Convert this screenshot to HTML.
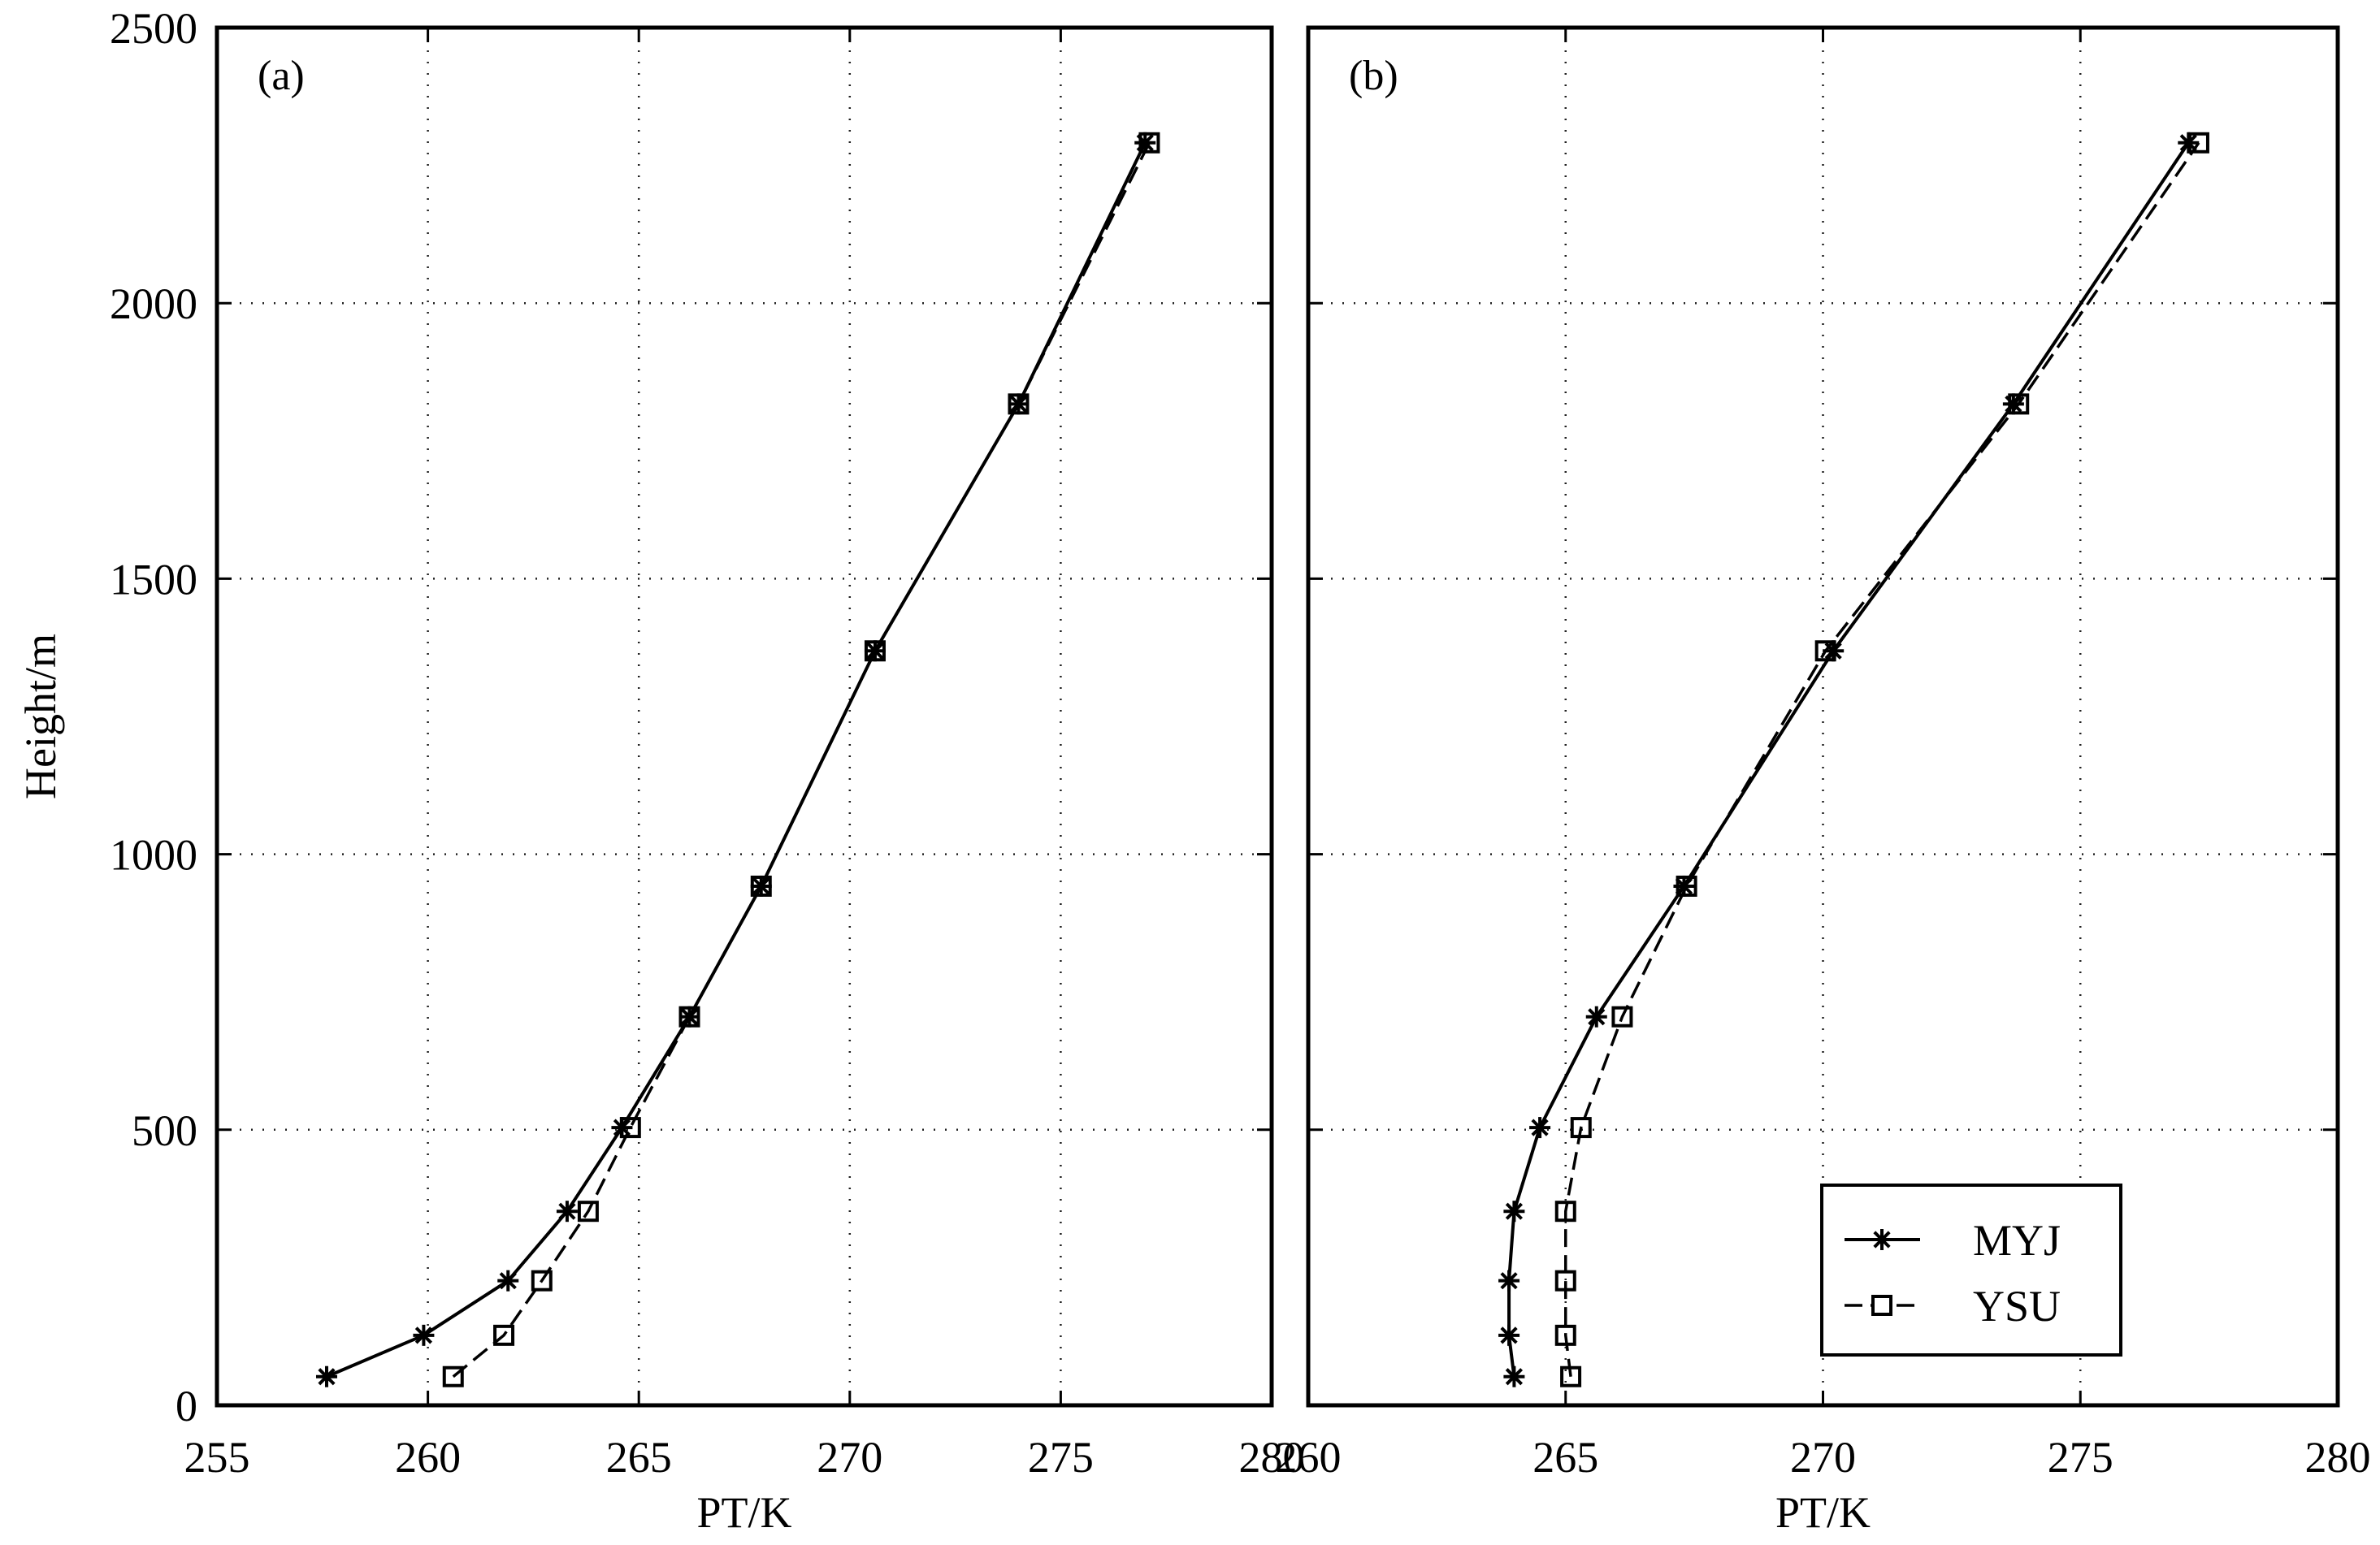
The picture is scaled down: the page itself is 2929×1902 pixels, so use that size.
<!DOCTYPE html>
<html><head><meta charset="utf-8">
<style>
html,body{margin:0;padding:0;background:#fff;}
svg{display:block;font-family:"Liberation Serif",serif;}
</style></head>
<body>
<svg id="chart" width="2929" height="1902" viewBox="0 0 2929 1902" xmlns="http://www.w3.org/2000/svg">
<rect width="2929" height="1902" fill="#fff"/>
</svg>
<script>
const heights = [52, 127, 226, 352, 504, 705, 942, 1369, 1817, 2291];
const myjA = [257.6, 259.9, 261.9, 263.3, 264.6, 266.2, 267.9, 270.6, 274.0, 277.0];
const ysuA = [260.6, 261.8, 262.7, 263.8, 264.8, 266.2, 267.9, 270.6, 274.0, 277.1];
const myjB = [264.0, 263.9, 263.9, 264.0, 264.5, 265.6, 267.3, 270.2, 273.7, 277.1];
const ysuB = [265.1, 265.0, 265.0, 265.0, 265.3, 266.1, 267.35, 270.05, 273.8, 277.3];
const xTicksA = [255, 260, 265, 270, 275, 280];
const xTicksB = [260, 265, 270, 275, 280];
const yTicks = [0, 500, 1000, 1500, 2000, 2500];

const NS = "http://www.w3.org/2000/svg";
const svg = document.getElementById('chart');
function mk(tag, attrs, parent) {
  const e = document.createElementNS(NS, tag);
  for (const k in attrs) e.setAttribute(k, attrs[k]);
  (parent || svg).appendChild(e);
  return e;
}
const yTop = 34, yBottom = 1730;
function yS(v) { return yBottom - (v / 2500) * (yBottom - yTop); }

function star(g, x, y) {
  const s = mk('g', {stroke: '#000', 'stroke-width': 4}, g);
  
  
  const r = 13;
  [0, 45, 90, 135].forEach(a => {
    const dx = r * Math.cos(a * Math.PI / 180), dy = r * Math.sin(a * Math.PI / 180);
    mk('line', {x1: x - dx, y1: y - dy, x2: x + dx, y2: y + dy}, s);
  });
}

function panel(key, left, right, xmin, xmax, xTicks, myj, ysu, label, showY) {
  const g = mk('g', {});
  
  
  const xS = v => left + (v - xmin) / (xmax - xmin) * (right - left);
  xTicks.forEach(t => {
    const x = xS(t);
    if (t !== xmin && t !== xmax) {
      const l = mk('line', {x1: x, x2: x, y1: yTop, y2: yBottom, stroke: '#222', 'stroke-width': 2.5, 'stroke-dasharray': '2 12'}, g);
      
      
    }
    mk('line', {x1: x, x2: x, y1: yBottom, y2: yBottom - 18, stroke: '#000', 'stroke-width': 3}, g);
    mk('line', {x1: x, x2: x, y1: yTop, y2: yTop + 18, stroke: '#000', 'stroke-width': 3}, g);
    const tx = mk('text', {x: x, y: 1812, 'font-size': 54, 'text-anchor': 'middle'}, g);
    tx.textContent = t;
    
    
  });
  yTicks.forEach(t => {
    const y = yS(t);
    if (t !== 0 && t !== 2500) {
      const l = mk('line', {x1: left, x2: right, y1: y, y2: y, stroke: '#222', 'stroke-width': 2.5, 'stroke-dasharray': '2 12'}, g);
      
      
    }
    mk('line', {x1: left, x2: left + 18, y1: y, y2: y, stroke: '#000', 'stroke-width': 3}, g);
    mk('line', {x1: right, x2: right - 18, y1: y, y2: y, stroke: '#000', 'stroke-width': 3}, g);
    if (showY) {
      const tx = mk('text', {x: 243, y: y + 19, 'font-size': 54, 'text-anchor': 'end'}, g);
      tx.textContent = t;
      
      
    }
  });
  const fr = mk('rect', {x: left, y: yTop, width: right - left, height: yBottom - yTop, fill: 'none', stroke: '#000', 'stroke-width': 5}, g);
  
  
  const py = ysu.map((v, i) => xS(v) + ',' + yS(heights[i])).join(' ');
  const ly = mk('polyline', {points: py, fill: 'none', stroke: '#000', 'stroke-width': 3.5, 'stroke-dasharray': '22 10'}, g);
  
  
  ysu.forEach((v, i) => {
    const r = mk('rect', {x: xS(v) - 11, y: yS(heights[i]) - 11, width: 22, height: 22, fill: 'none', stroke: '#000', 'stroke-width': 4}, g);
    
    
  });
  const pm = myj.map((v, i) => xS(v) + ',' + yS(heights[i])).join(' ');
  const lm = mk('polyline', {points: pm, fill: 'none', stroke: '#000', 'stroke-width': 4}, g);
  
  
  myj.forEach((v, i) => star(g, xS(v), yS(heights[i])));
  const lb = mk('text', {x: left + 50, y: 110, 'font-size': 52}, g);
  lb.textContent = label;
  
  
  const xt = mk('text', {x: (left + right) / 2, y: 1880, 'font-size': 54, 'text-anchor': 'middle'}, g);
  xt.textContent = 'PT/K';
  
  
}
panel('a', 267, 1565, 255, 280, xTicksA, myjA, ysuA, '(a)', true);
panel('b', 1610, 2877, 260, 280, xTicksB, myjB, ysuB, '(b)', false);

const yt = mk('text', {x: 0, y: 0, 'font-size': 54, 'text-anchor': 'middle', transform: 'translate(68,882) rotate(-90)'});
yt.textContent = 'Height/m';



const lg = mk('g', {});


mk('rect', {x: 2242, y: 1459, width: 368, height: 209, fill: '#fff', stroke: '#000', 'stroke-width': 4}, lg);
const e1 = mk('g', {}, lg);


mk('line', {x1: 2270, x2: 2363, y1: 1526, y2: 1526, stroke: '#000', 'stroke-width': 4}, e1);
star(e1, 2316, 1526);
const t1 = mk('text', {x: 2428, y: 1545, 'font-size': 54}, e1);
t1.textContent = 'MYJ';
const e2 = mk('g', {}, lg);


mk('line', {x1: 2270, x2: 2363, y1: 1607, y2: 1607, stroke: '#000', 'stroke-width': 3.5, 'stroke-dasharray': '22 10'}, e2);
mk('rect', {x: 2305, y: 1596, width: 22, height: 22, fill: '#fff', stroke: '#000', 'stroke-width': 4}, e2);
const t2 = mk('text', {x: 2428, y: 1626, 'font-size': 54}, e2);
t2.textContent = 'YSU';
</script>
</body></html>
